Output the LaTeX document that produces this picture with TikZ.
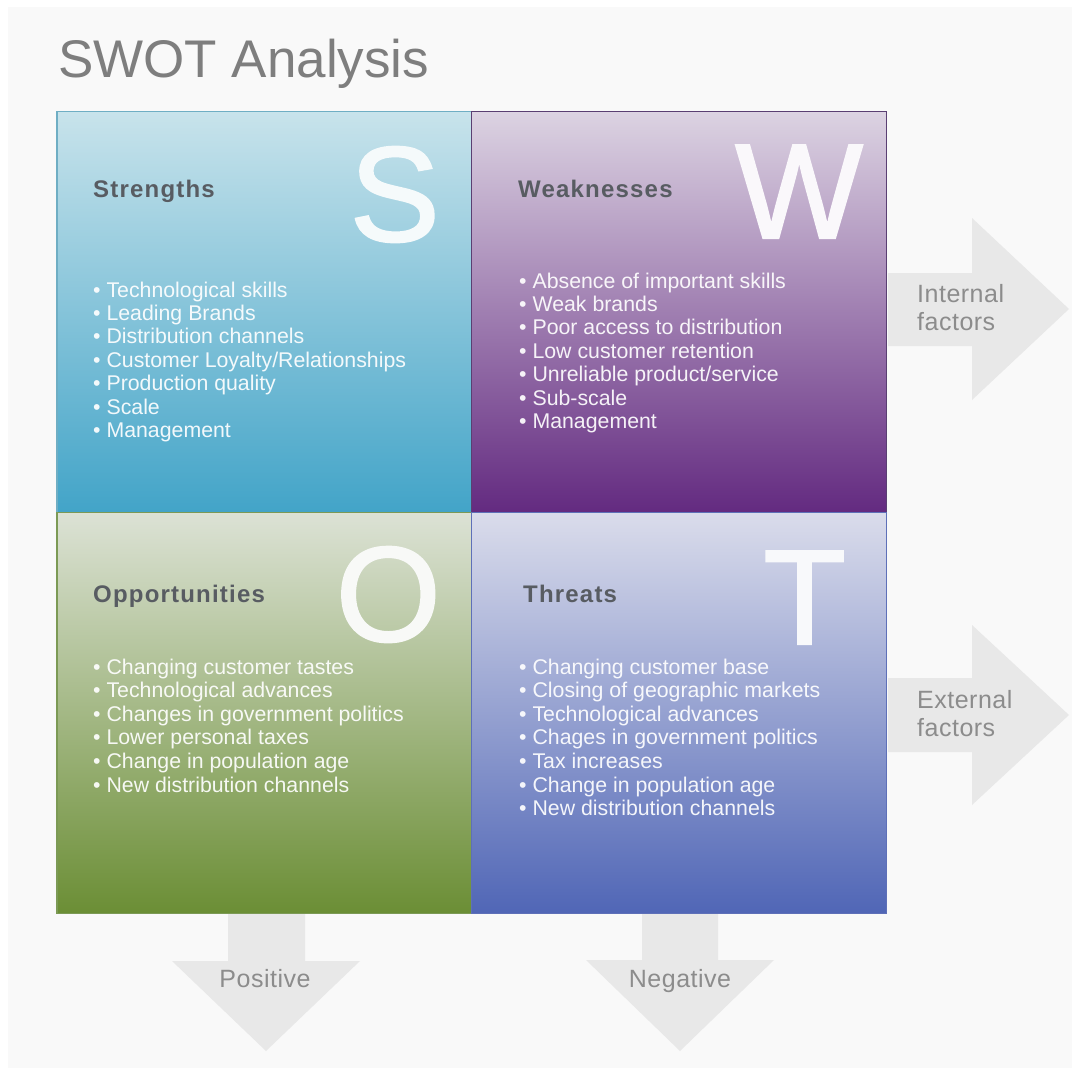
\documentclass[tikz,border=0pt]{standalone}
\usepackage{fontspec}
\setmainfont{Liberation Sans}
\newfontfamily\headfont[LetterSpace=5]{Liberation Sans}
\newfontfamily\arrowfont[LetterSpace=2]{Liberation Sans}
\newfontfamily\letterfont[FakeBold=1.6]{Liberation Sans}
\usepackage{tikz}

\definecolor{bggray}{HTML}{F9F9F9}
\definecolor{titlegray}{HTML}{7E7E7E}
\definecolor{headgray}{HTML}{585C62}
\definecolor{arrowgray}{HTML}{E8E8E8}
\definecolor{arrowtextgray}{HTML}{8C8C8C}
\definecolor{sTop}{HTML}{C8E3EB}
\definecolor{sMid}{HTML}{8AC5D9}
\definecolor{sBot}{HTML}{42A4C8}
\definecolor{sLine}{HTML}{6FAEC4}
\definecolor{wTop}{HTML}{DCD3E2}
\definecolor{wMid}{HTML}{9F88B4}
\definecolor{wBot}{HTML}{632A80}
\definecolor{wLine}{HTML}{5A3F72}
\definecolor{oTop}{HTML}{DCE2D5}
\definecolor{oMid}{HTML}{ADBA93}
\definecolor{oBot}{HTML}{6B8E35}
\definecolor{oLine}{HTML}{7C9A55}
\definecolor{tTop}{HTML}{DADCEB}
\definecolor{tMid}{HTML}{A5ACD9}
\definecolor{tBot}{HTML}{5066B6}
\definecolor{tLine}{HTML}{5E70B8}

\begin{document}
\begin{tikzpicture}[x=1pt, y=-1pt,
  quad/.style={minimum width=415pt, minimum height=401pt, inner sep=0, line width=1.2pt},
  bigletter/.style={anchor=base east, inner sep=0,
    font=\fontsize{135}{135}\letterfont},
  head/.style={anchor=base west, inner sep=0, text=headgray,
    font=\fontsize{24}{24}\headfont\bfseries},
  item/.style={anchor=base west, inner sep=0, text=white, text opacity=0.92,
    font=\fontsize{21.3}{23.4}\selectfont},
  arrowshape/.style={fill=arrowgray},
  arrowtext/.style={inner sep=0, text=arrowtextgray, align=left,
    font=\fontsize{25}{28.5}\arrowfont}]
  \useasboundingbox (0,0) rectangle (1072,1068);
  \fill[bggray] (8,7) rectangle (1072,1068);

  \node[anchor=base west, inner sep=0, text=titlegray, font=\fontsize{53}{53}\selectfont]
    (title) at (58,77) {SWOT Analysis};

  % the four quarters
  \node[quad, draw=sLine, top color=sTop, middle color=sMid, bottom color=sBot] (strengths) at (264.5,312) {};
  \node[quad, draw=wLine, top color=wTop, middle color=wMid, bottom color=wBot] (weaknesses) at (679,312) {};
  \node[quad, draw=oLine, top color=oTop, middle color=oMid, bottom color=oBot] (opportunities) at (264.5,713) {};
  \node[quad, draw=tLine, top color=tTop, middle color=tMid, bottom color=tBot] (threats) at (679,713) {};

  \node[bigletter, text=white!82!sTop] (sletter) at (440,241) {S};
  \node[bigletter, text=white!85!wTop] (wletter) at (863,238) {W};
  \node[bigletter, text=white!80!oTop] (oletter) at (441,641) {O};
  \node[bigletter, text=white!82!tTop] (tletter) at (846,644) {T};

  \node[head] (shead) at (93,197) {Strengths};
  \node[head] (whead) at (518,197) {Weaknesses};
  \node[head] (ohead) at (93,602) {Opportunities};
  \node[head] (thead) at (523,602) {Threats};

  \foreach \t [count=\i] in {Technological skills, Leading Brands, Distribution channels,
      Customer Loyalty/Relationships, Production quality, Scale, Management}
    \node[item] (s\i) at (93,{297+23.4*(\i-1)}) {• \t};
  \foreach \t [count=\i] in {Absence of important skills, Weak brands, Poor access to distribution,
      Low customer retention, Unreliable product/service, Sub-scale, Management}
    \node[item] (w\i) at (519,{288+23.4*(\i-1)}) {• \t};
  \foreach \t [count=\i] in {Changing customer tastes, Technological advances,
      Changes in government politics, Lower personal taxes, Change in population age,
      New distribution channels}
    \node[item] (o\i) at (93,{674+23.6*(\i-1)}) {• \t};
  \foreach \t [count=\i] in {Changing customer base, Closing of geographic markets,
      Technological advances, Chages in government politics, Tax increases,
      Change in population age, New distribution channels}
    \node[item] (t\i) at (519,{674+23.6*(\i-1)}) {• \t};

  % side and bottom arrows
  \fill[arrowshape] (888,273) -- (972,273) -- (972,218) -- (1069,309)
    -- (972,400) -- (972,346) -- (888,346) -- cycle;
  \fill[arrowshape] (888,678) -- (972,678) -- (972,625) -- (1069,715)
    -- (972,805) -- (972,752) -- (888,752) -- cycle;
  \fill[arrowshape] (228,914) -- (305,914) -- (305,961) -- (360,961)
    -- (266,1051) -- (172,961) -- (228,961) -- cycle;
  \fill[arrowshape] (642,914) -- (718,914) -- (718,960) -- (774,960)
    -- (680,1051) -- (586,960) -- (642,960) -- cycle;

  \node[arrowtext, anchor=north west] (internal) at (917,284) {Internal\\factors};
  \node[arrowtext, anchor=north west] (external) at (917,690) {External\\factors};
  \node[arrowtext, anchor=base] (positive) at (265,987) {Positive};
  \node[arrowtext, anchor=base] (negative) at (680,987) {Negative};
\end{tikzpicture}
\end{document}
